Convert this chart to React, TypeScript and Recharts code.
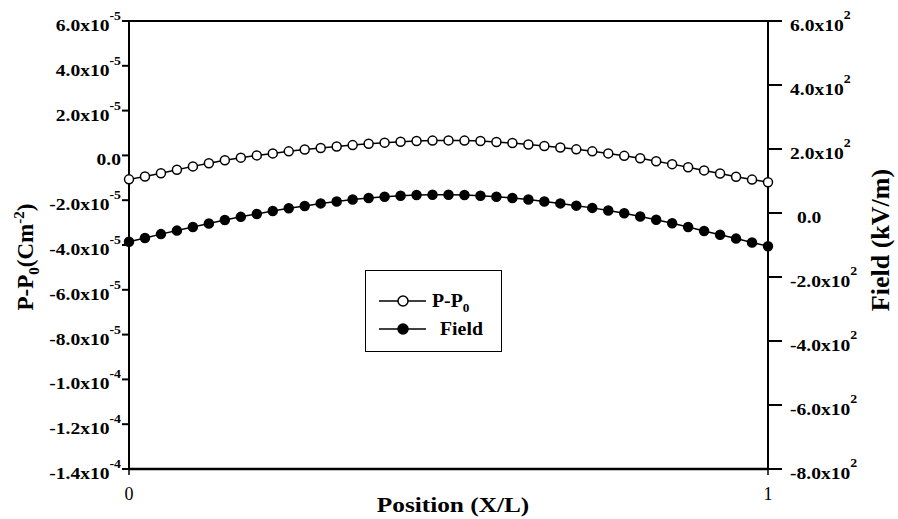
import { ComposedChart, Line, XAxis, YAxis, ReferenceLine } from "recharts";

const positions = [
  0, 0.025, 0.05, 0.075, 0.1, 0.125, 0.15, 0.175, 0.2, 0.225, 0.25, 0.275, 0.3, 0.325,
  0.35, 0.375, 0.4, 0.425, 0.45, 0.475, 0.5, 0.525, 0.55, 0.575, 0.6, 0.625, 0.65,
  0.675, 0.7, 0.725, 0.75, 0.775, 0.8, 0.825, 0.85, 0.875, 0.9, 0.925, 0.95, 0.975, 1,
];

// P - P0 in C/m^2
const polarization = [
  -1.07e-5, -0.94e-5, -0.8e-5, -0.64e-5, -0.49e-5, -0.35e-5, -0.22e-5, -0.1e-5, 0.0, 0.09e-5,
  0.18e-5, 0.26e-5, 0.33e-5, 0.4e-5, 0.46e-5, 0.52e-5, 0.57e-5, 0.61e-5, 0.64e-5, 0.66e-5,
  0.67e-5, 0.66e-5, 0.64e-5, 0.6e-5, 0.55e-5, 0.49e-5, 0.42e-5, 0.35e-5, 0.27e-5, 0.18e-5,
  0.09e-5, -0.02e-5, -0.13e-5, -0.26e-5, -0.39e-5, -0.53e-5, -0.67e-5, -0.81e-5, -0.95e-5,
  -1.08e-5, -1.2e-5,
];

// Field in kV/m
const field = [
  -90, -78, -66, -55, -44, -33, -22, -12, -3, 6, 15, 22, 30, 36, 42, 47, 51, 54, 56, 57, 57,
  56, 54, 51, 47, 42, 36, 30, 23, 16, 8, -1, -11, -21, -32, -44, -56, -68, -80, -92, -104,
];

const xTicks = [0, 1];
const xTickLabels = ["0", "1"];

const leftTicks = [6e-5, 4e-5, 2e-5, 0, -2e-5, -4e-5, -6e-5, -8e-5, -1e-4, -1.2e-4, -1.4e-4];
const leftTickLabels = [
  "6.0x10^-5", "4.0x10^-5", "2.0x10^-5", "0.0", "-2.0x10^-5", "-4.0x10^-5",
  "-6.0x10^-5", "-8.0x10^-5", "-1.0x10^-4", "-1.2x10^-4", "-1.4x10^-4",
];

const rightTicks = [600, 400, 200, 0, -200, -400, -600, -800];
const rightTickLabels = [
  "6.0x10^2", "4.0x10^2", "2.0x10^2", "0.0", "-2.0x10^2", "-4.0x10^2", "-6.0x10^2", "-8.0x10^2",
];

const rows = positions.map((x, i) => ({ x, p: polarization[i], field: field[i] }));

const FONT = "Liberation Serif, Times New Roman, serif";

function labelFor(ticks: number[], labels: string[], value: number) {
  const i = ticks.findIndex((t) => Math.abs(t - value) < Math.abs(t) * 1e-6 + 1e-12);
  return i >= 0 ? labels[i] : "";
}

function LeftTick(props: any) {
  const { x, y, payload } = props;
  const [mant, exp] = labelFor(leftTicks, leftTickLabels, payload.value).split("^");
  return (
    <g transform={`translate(${x + 1},${y}) scale(1.15,1)`}>
      <text x={0} y={10} textAnchor="end" style={{ fontFamily: FONT, fontWeight: 700, fontSize: 17 }} fill="#000">
        <tspan>{mant}</tspan>
        {exp && (
          <tspan dy={-11} style={{ fontSize: 12 }}>
            {exp}
          </tspan>
        )}
      </text>
    </g>
  );
}

function RightTick(props: any) {
  const { x, y, payload } = props;
  const [mant, exp] = labelFor(rightTicks, rightTickLabels, payload.value).split("^");
  return (
    <g transform={`translate(${x + 6},${y}) scale(1.15,1)`}>
      <text x={exp ? 0 : 6} y={10} textAnchor="start" style={{ fontFamily: FONT, fontWeight: 700, fontSize: 17 }} fill="#000">
        <tspan>{mant}</tspan>
        {exp && (
          <tspan dy={-12} style={{ fontSize: 12 }}>
            {exp}
          </tspan>
        )}
      </text>
    </g>
  );
}

function BottomTick(props: any) {
  const { x, y, payload } = props;
  return (
    <text x={x} y={y + 23} textAnchor="middle" style={{ fontFamily: FONT, fontSize: 18 }} fill="#000">
      {labelFor(xTicks, xTickLabels, payload.value)}
    </text>
  );
}

function LegendBox() {
  const row = (filled: boolean, label: any, textGap: number) => (
    <div style={{ display: "flex", alignItems: "center", height: 28 }}>
      <svg width={62} height={14} style={{ marginLeft: 12 }}>
        <line x1={1} y1={7} x2={48} y2={7} stroke="#000" strokeWidth={1.5} />
        <circle cx={25} cy={7} r={5} fill={filled ? "#000" : "#fff"} stroke="#000" strokeWidth={1.5} />
      </svg>
      <span style={{ marginLeft: textGap, display: "inline-block", transform: "scaleX(1.1)", transformOrigin: "left" }}>
        {label}
      </span>
    </div>
  );
  return (
    <div
      style={{
        position: "absolute",
        left: 365,
        top: 270,
        width: 137,
        height: 82,
        boxSizing: "border-box",
        border: "1.5px solid #000",
        fontFamily: FONT,
        fontWeight: "bold",
        fontSize: 18,
        paddingTop: 16,
        background: "#fff",
      }}
    >
      {row(
        false,
        <span>
          P-P<sub style={{ fontSize: 12, lineHeight: 0 }}>0</sub>
        </span>,
        -8
      )}
      {row(true, "Field", 0)}
    </div>
  );
}

export default function App() {
  return (
    <div style={{ position: "absolute", left: 0, top: 0, width: 898, height: 519, background: "#fff" }}>
      <ComposedChart width={898} height={519} data={rows} margin={{ top: 21, right: 0, bottom: 0, left: 0 }}>
        <XAxis
          dataKey="x"
          type="number"
          domain={[0, 1]}
          ticks={xTicks}
          height={50}
          tickSize={6}
          tick={<BottomTick />}
          axisLine={{ stroke: "#000", strokeWidth: 2.5 }}
          tickLine={{ stroke: "#000", strokeWidth: 1.5 }}
          label={{
            content: () => (
              <g transform="translate(453,512) scale(1.15,1)">
                <text
                  x={0}
                  y={0}
                  textAnchor="middle"
                  style={{ fontFamily: FONT, fontWeight: 700, fontSize: 22 }}
                  fill="#000"
                >
                  Position (X/L)
                </text>
              </g>
            ),
          }}
        />
        <YAxis
          yAxisId="left"
          width={129}
          domain={[-1.4e-4, 6e-5]}
          ticks={leftTicks}
          interval={0}
          tickSize={7}
          tick={<LeftTick />}
          axisLine={{ stroke: "#000", strokeWidth: 2 }}
          tickLine={{ stroke: "#000", strokeWidth: 2 }}
          label={{
            content: () => (
              <text
                transform="translate(33,257) rotate(-90)"
                textAnchor="middle"
                style={{ fontFamily: FONT, fontWeight: 700, fontSize: 23 }}
                fill="#000"
              >
                P-P
                <tspan dy={6} style={{ fontSize: 15 }}>
                  0
                </tspan>
                <tspan dy={-6}>(Cm</tspan>
                <tspan dy={-9} style={{ fontSize: 15 }}>
                  -2
                </tspan>
                <tspan dy={9}>)</tspan>
              </text>
            ),
          }}
        />
        <YAxis
          yAxisId="right"
          orientation="right"
          width={130}
          domain={[-800, 600]}
          ticks={rightTicks}
          interval={0}
          tickSize={14}
          tick={<RightTick />}
          axisLine={{ stroke: "#000", strokeWidth: 2 }}
          tickLine={{ stroke: "#000", strokeWidth: 2 }}
          label={{
            content: () => (
              <text
                transform="translate(889,240) rotate(-90)"
                textAnchor="middle"
                style={{ fontFamily: FONT, fontWeight: 700, fontSize: 26 }}
                fill="#000"
              >
                Field (kV/m)
              </text>
            ),
          }}
        />
        <ReferenceLine yAxisId="left" y={6e-5} stroke="#000" strokeWidth={2} />
        <Line
          yAxisId="left"
          dataKey="p"
          name="P-P0"
          type="linear"
          stroke="#000"
          strokeWidth={1.5}
          dot={{ r: 4.5, fill: "#fff", stroke: "#000", strokeWidth: 1.5 }}
          isAnimationActive={false}
        />
        <Line
          yAxisId="right"
          dataKey="field"
          name="Field"
          type="linear"
          stroke="#000"
          strokeWidth={1.5}
          dot={{ r: 4.5, fill: "#000", stroke: "#000", strokeWidth: 1.5 }}
          isAnimationActive={false}
        />
      </ComposedChart>
      <LegendBox />
    </div>
  );
}
